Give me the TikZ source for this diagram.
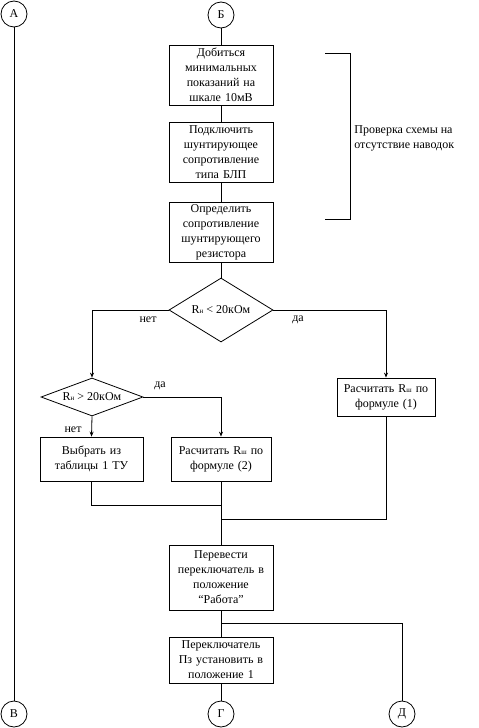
\documentclass[tikz,border=0pt]{standalone}
\usepackage{fontspec}
\setmainfont{Liberation Serif}
\usetikzlibrary{arrows.meta,shapes.geometric}
\newcommand{\Rsub}[1]{R{\fontsize{7}{7}\selectfont #1}}

\begin{document}
\begin{tikzpicture}[x=1pt, y=-1pt, line width=0.8pt,
  font=\fontsize{12}{15}\selectfont,
  conn/.style={draw=black, fill=white, circle, minimum size=26pt, inner sep=0pt},
  pbox/.style={draw=black, fill=white, align=center, inner sep=1pt, minimum width=104pt, text width=100pt},
  cond/.style={draw=black, fill=white, diamond, inner sep=0pt, align=center},
  arr/.style={-{Stealth[length=5pt, width=4pt]}}]

\useasboundingbox (0,0) rectangle (479,728);

\node[conn] at (14,14) (ca) {А};
\node[conn] at (221,15) (cb) {Б};
\node[conn] at (14,714) (cv) {В};
\node[conn] at (221,714) (cg) {Г};
\node[conn] at (402,714) (cd) {Д};

\node[pbox, minimum height=60pt] at (221,75) (zero) {Добиться\\ минимальных\\ показаний на\\ шкале 10мВ};
\node[pbox, minimum height=60pt] at (221,152) (shunt) {Подключить\\ шунтирующее\\ сопротивление\\ типа БЛП};
\node[pbox, minimum height=60pt] at (221,232) (meas) {Определить\\ сопротивление\\ шунтирующего\\ резистора};

\node[cond, minimum width=104pt, minimum height=64pt, aspect=1.6] at (221,310) (less) {\Rsub{н} < 20кОм};
\node[cond, minimum width=102pt, minimum height=38pt, aspect=2.7] at (92,397) (more) {\Rsub{н} > 20кОм};

\node[pbox, minimum width=98pt, text width=94pt, minimum height=38pt] at (386,397) (calcone) {Расчитать \Rsub{ш} по\\ формуле (1)};
\node[pbox, minimum width=103pt, text width=99pt, minimum height=44pt] at (91.5,459) (table) {Выбрать из\\ таблицы 1 ТУ};
\node[pbox, minimum width=100pt, text width=96pt, minimum height=44pt] at (221,459) (calctwo) {Расчитать \Rsub{ш} по\\ формуле (2)};

\node[pbox, minimum height=65pt] at (221,577.5) (work) {Перевести\\ переключатель в\\ положение\\ ``Работа''};
\node[pbox, minimum height=46pt] at (221,660) (pos) {Переключатель\\ Пз установить в\\ положение 1};

% bracket for the check group
\coordinate (brt) at (325,53);
\coordinate (brb) at (325,219);
\draw (brt) -- ++(25,0) |- (brb);
\node[anchor=west, align=left, inner sep=0pt] at (354,138) (check) {Проверка схемы на\\ отсутствие наводок};

% connectors
\draw (ca) -- (cv);
\draw (cb) -- (zero);
\draw (zero) -- (shunt);
\draw (shunt) -- (meas);
\draw (meas) -- (less);

\draw[arr] (less.west) -| (more.north);
\draw[arr] (less.east) -| (calcone.north);
\node at (148,320) (lno) {нет};
\node at (298,320) (lyes) {да};

\draw[arr] (more.east) -| (calctwo.north);
\draw[arr] (more.south) -- (table.north);
\node at (160,386) (myes) {да};
\node at (73,430) (mno) {нет};

\coordinate (mleft) at (221,505);
\coordinate (mright) at (221,519);
\draw (table.south) |- (mleft);
\draw (calcone.south) |- (mright);
\draw (calctwo.south) -- (work.north);

\coordinate (split) at (221,623);
\draw (work.south) -- (pos.north);
\draw (split) -| (cd.north);
\draw (pos.south) -- (cg.north);

\end{tikzpicture}
\end{document}
